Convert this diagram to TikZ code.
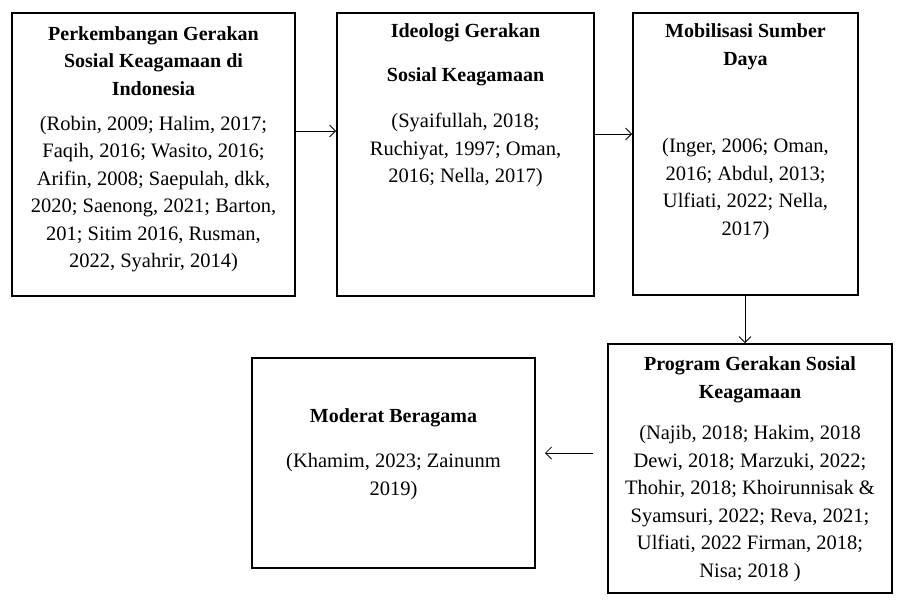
\documentclass[tikz,border=0pt]{standalone}
\usepackage{fontspec}
\setmainfont{Liberation Serif}
\usetikzlibrary{arrows.meta}
\begin{document}
\begin{tikzpicture}[x=1pt,y=-1pt,
  box/.style={draw=black,line width=1.8pt,rectangle,inner sep=0pt},
  txt/.style={align=center,font=\fontsize{20.5}{27.5}\selectfont,inner sep=0pt},
  hd/.style={txt,font=\fontsize{20}{27.5}\selectfont\bfseries},
  conn/.style={line width=0.8pt,-{Straight Barb[length=6pt,width=12pt,line width=0.8pt]}}]
\useasboundingbox (0,0) rectangle (909,600);
% boxes
\node[box,minimum width=283pt,minimum height=283pt] (b1) at (153.5,154.5) {};
\node[box,minimum width=257pt,minimum height=283pt] (b2) at (465.5,154.5) {};
\node[box,minimum width=225pt,minimum height=282pt] (b3) at (745.5,154) {};
\node[box,minimum width=284pt,minimum height=249pt] (b5) at (750,468.5) {};
\node[box,minimum width=283pt,minimum height=210pt] (b4) at (393.5,463) {};
% texts
\node[hd] (t1h) at (153.5,61) {Perkembangan Gerakan\\Sosial Keagamaan di\\Indonesia};
\node[txt] (t1b) at (153.5,194) {(Robin, 2009; Halim, 2017;\\Faqih, 2016; Wasito, 2016;\\Arifin, 2008; Saepulah, dkk,\\2020; Saenong, 2021; Barton,\\201; Sitim 2016, Rusman,\\2022, Syahrir, 2014)};
\node[hd] (t2h) at (465.5,33) {Ideologi Gerakan};
\node[hd] (t2i) at (465.5,77) {Sosial Keagamaan};
\node[txt] (t2b) at (465.5,150) {(Syaifullah, 2018;\\Ruchiyat, 1997; Oman,\\2016; Nella, 2017)};
\node[hd] (t3h) at (745.5,46.5) {Mobilisasi Sumber\\Daya};
\node[txt] (t3b) at (745.5,189) {(Inger, 2006; Oman,\\2016; Abdul, 2013;\\Ulfiati, 2022; Nella,\\2017)};
\node[hd] (t5h) at (750,380) {Program Gerakan Sosial\\Keagamaan};
\node[txt] (t5b) at (750,503.5) {(Najib, 2018; Hakim, 2018\\Dewi, 2018; Marzuki, 2022;\\Thohir, 2018; Khoirunnisak \&\\Syamsuri, 2022; Reva, 2021;\\Ulfiati, 2022 Firman, 2018;\\Nisa; 2018 )};
\node[hd] (t4h) at (393.5,418) {Moderat Beragama};
\node[txt] (t4b) at (393.5,476.5) {(Khamim, 2023; Zainunm\\2019)};
% connectors
\draw[conn] (b1.east |- 0,131) -- (b2.west |- 0,131);
\draw[conn] (b2.east |- 0,134) -- (b3.west |- 0,134);
\draw[conn] (b3.south -| 745,0) -- (b5.north -| 745,0);
\coordinate (a5) at (593,453);
\coordinate (a4) at (545,453);
\draw[conn] (a5) -- (a4);
\end{tikzpicture}
\end{document}
